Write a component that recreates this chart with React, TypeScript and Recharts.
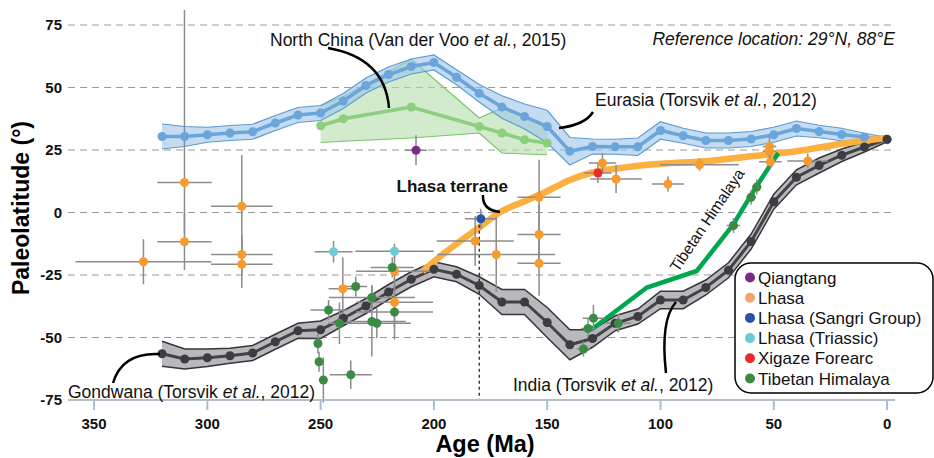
import React from "react";
import {
  ComposedChart,
  XAxis,
  YAxis,
  CartesianGrid,
  Line,
  Area,
  Scatter,
  ErrorBar,
  ReferenceLine,
} from "recharts";

// Apparent polar wander models, every 10 Ma from 320 to 0 Ma
const modelAges = [320, 310, 300, 290, 280, 270, 260, 250, 240, 230, 220, 210, 200, 190, 180, 170, 160, 150, 140, 130, 120, 110, 100, 90, 80, 70, 60, 50, 40, 30, 20, 10, 0];
const eurasiaLat = [30.4, 30.4, 31.1, 31.8, 32.3, 35.8, 39.0, 39.8, 44.6, 50.8, 55.2, 58.4, 60.0, 54.1, 47.7, 42.2, 38.4, 34.4, 24.5, 26.4, 26.3, 26.3, 32.8, 30.7, 28.8, 28.8, 29.4, 31.1, 33.6, 32.4, 31.2, 30.2, 29.1];
const eurasiaErr = [5, 4, 3, 3, 3, 3, 3, 3, 3, 3, 3, 3, 3, 3, 3.5, 4.5, 5, 6.5, 5.5, 3, 3, 3.5, 3.5, 3, 3, 3, 3, 3, 3, 2.5, 2.5, 1.5, 1];
const indiaLat = [-56.5, -58.6, -58.1, -57.3, -56.2, -51.7, -47.3, -46.9, -42.3, -37.4, -31.8, -26.7, -22.7, -24.7, -29.2, -35.8, -35.8, -44.0, -52.9, -50.4, -44.3, -41.6, -35.0, -35.0, -30.0, -23.1, -11.6, 4.3, 14.1, 18.8, 22.9, 26.2, 29.3];
const indiaErr = [5, 4, 3.5, 3, 3, 3, 3, 3.5, 3, 3, 3, 3, 3, 3, 3.5, 5, 5, 6, 6, 3.5, 3, 3, 3.5, 3.5, 3, 3, 3, 3, 3, 3, 2.5, 2, 1];

// North China (Van der Voo et al., 2015)
const northChinaAges = [250, 240, 210, 180, 170, 160, 150];
const northChinaLat = [34.7, 37.5, 42.2, 34.4, 31.8, 29.1, 27.8];
const northChinaLow = [28.0, 28.5, 29.8, 31.8, 23.8, 23.4, 23.1];
const northChinaHigh = [42.7, 46.4, 61.3, 37.8, 41.8, 37.8, 33.8];

// Lhasa terrane path
const lhasaPathAges = [205, 197, 190, 180, 171, 160, 150, 140, 130, 120, 100, 80, 60, 40, 20, 0];
const lhasaPathLat = [-23.5, -17.4, -12.5, -6, 0, 4.5, 8.5, 13, 16, 17.5, 19.5, 20.5, 22.5, 24.5, 27.5, 29.9];

// Tibetan Himalaya path
const himalayaPathAges = [130, 106, 84, 68, 58, 48];
const himalayaPathLat = [-46.5, -30, -23.4, -5, 10, 23.8];

// sites: [age, lat, age error, lat error]
const qiangtangSites = [[207.9, 24.9, 4.8, 6]];
const lhasaSites = [
  [328.2, -19.7, 30, 9],
  [310.1, 12, 12, [20, 69]],
  [310.1, -11.7, 12, 11.3],
  [284.8, 2.5, 13.6, 20.5],
  [284.8, -16.8, 13.6, 8],
  [284.8, -20.7, 13.6, 9.5],
  [240.2, -30.5, 6.3, 12.6],
  [217.4, -23.5, 17, 8],
  [217.4, -35.9, 17, 10],
  [181.8, -11.4, 17, 10],
  [172.5, -16.8, 26, 15],
  [153.6, 6.1, 9.5, 15],
  [153.6, -8.8, 9.5, 12],
  [153.6, -20.3, 9.5, 13],
  [125.6, 19.8, 6, 4],
  [119.6, 13.4, 11.5, 5.6],
  [96.7, 11.4, 7, 3],
  [82.8, 19.1, 17.3, 2.4],
  [51.9, 26.4, 3, 4.5],
  [51.9, 24.5, 3, 3],
  [51.5, 20.3, 5, 3],
  [35, 20.6, 9, 3],
];
const sangriSites = [[179.3, -2.5, 7, 4]];
const triassicSites = [
  [244.3, -15.7, 8.4, 4.3],
  [217.4, -15.5, 17.3, 3],
];
const xigazeSites = [[127.6, 15.8, 6, 4]];
const himalayaSites = [
  [251.2, -52.4, 0, 4],
  [250.7, -59.7, 0, 4],
  [248.8, -67, 0, 9],
  [246.5, -39, 8, 4],
  [241.7, -44.3, 5, 8.3],
  [236.7, -64.9, 9.3, 5.7],
  [234.5, -29.6, 5, 4],
  [227.4, -34, 19, 5],
  [227.4, -43.6, 15, 14],
  [225.2, -44.3, 15, 6],
  [218.4, -22, 9.5, 4],
  [217.4, -39.8, 17, 11],
  [134, -54.6, 3, 3],
  [132, -46.4, 3, 4],
  [129.6, -42.3, 4.8, 5.3],
  [118.6, -44.3, 5.5, 3.7],
  [67.8, -5.2, 3, 3],
  [60, 6.1, 2, 3],
  [57.5, 10.2, 2, 3],
];

const legendNames = ["Qiangtang", "Lhasa", "Lhasa (Sangri Group)", "Lhasa (Triassic)", "Xigaze Forearc", "Tibetan Himalaya"];
const legendColors = ["#7b2a8a", "#f4a468", "#2754a5", "#6ccbd9", "#ec2a2a", "#3b8b45"];

const xTicks = [0, 50, 100, 150, 200, 250, 300, 350];
const yTicks = [-75, -50, -25, 0, 25, 50, 75];

const eurasiaData = modelAges.map((age, i) => ({
  age,
  lat: eurasiaLat[i],
  band: [eurasiaLat[i] - eurasiaErr[i], eurasiaLat[i] + eurasiaErr[i]],
}));
const indiaData = modelAges.map((age, i) => ({
  age,
  lat: indiaLat[i],
  band: [indiaLat[i] - indiaErr[i], indiaLat[i] + indiaErr[i]],
}));
const northChinaData = northChinaAges.map((age, i) => ({
  age,
  lat: northChinaLat[i],
  band: [northChinaLow[i], northChinaHigh[i]],
}));
const lhasaPath = lhasaPathAges.map((age, i) => ({ age, lat: lhasaPathLat[i] }));
const himalayaPath = himalayaPathAges.map((age, i) => ({ age, lat: himalayaPathLat[i] }));

const toPoints = (rows: any[]) => rows.map(([age, lat, ex, ey]) => ({ age, lat, ex, ey }));

const BLUE = "#6aa5dc";
const GREY = "#424247";
const LIGHTGREEN = "#8ccf7e";
const BAR = "#8c8c8c";
const FONT = "'Liberation Sans', Arial, sans-serif";

function Overlay() {
  const t = { fontSize: 17.5, fill: "#111" };
  const curve = { fill: "none", stroke: "#000", strokeWidth: 2.5 };
  return (
    <svg width={934} height={458} style={{ position: "absolute", left: 0, top: 0, pointerEvents: "none", fontFamily: FONT }}>
      <text x={21} y={208} fontSize={23} fontWeight="bold" textAnchor="middle" dy="0.35em" transform="rotate(-90 21 208)">
        Paleolatitude (°)
      </text>
      <text x={485} y={452} fontSize={23.5} fontWeight="bold" textAnchor="middle">Age (Ma)</text>

      <text x={270} y={46} {...t}>
        North China (Van der Voo <tspan fontStyle="italic">et al.</tspan>, 2015)
      </text>
      <path d="M328,48 Q385,58 389,108" {...curve} />
      <text x={895} y={45} {...t} fontStyle="italic" textAnchor="end">Reference location: 29°N, 88°E</text>
      <text x={595} y={106} {...t}>
        Eurasia (Torsvik <tspan fontStyle="italic">et al.</tspan>, 2012)
      </text>
      <path d="M593,112 Q585,125 559,128" {...curve} />
      <text x={68} y={398} {...t}>
        Gondwana (Torsvik <tspan fontStyle="italic">et al.</tspan>, 2012)
      </text>
      <path d="M113,383 Q122,352 160,354" {...curve} />
      <text x={513} y={391} {...t}>
        India (Torsvik <tspan fontStyle="italic">et al.</tspan>, 2012)
      </text>
      <path d="M666,373 Q660,320 676,302" {...curve} />
      <text x={508} y={192} fontSize={17} fontWeight="bold" textAnchor="end" fill="#111">Lhasa terrane</text>
      <path d="M483,195 Q482,210 500,212" {...curve} />
      <text x={707} y={220} fontSize={15.5} textAnchor="middle" dy="0.35em" transform="rotate(-56 707 220)" fill="#111">
        Tibetan Himalaya
      </text>

      <rect x={735} y={263} width={198} height={130} rx={16} fill="#fff" stroke="#000" strokeWidth={1.5} />
      {legendNames.map((name, i) => (
        <g key={name}>
          <circle cx={750} cy={277.5 + i * 20.2} r={5} fill={legendColors[i]} />
          <text x={758} y={283.5 + i * 20.2} fontSize={17} fill="#111">{name}</text>
        </g>
      ))}
    </svg>
  );
}

function siteSeries(rows: any[], color: string, key: string) {
  return (
    <Scatter key={key} data={toPoints(rows)} dataKey="lat" fill={color} isAnimationActive={false}>
      <ErrorBar dataKey="ex" direction="x" width={0} stroke={BAR} strokeWidth={1.5} isAnimationActive={false} />
      <ErrorBar dataKey="ey" direction="y" width={0} stroke={BAR} strokeWidth={1.5} isAnimationActive={false} />
    </Scatter>
  );
}

export default function App() {
  return (
    <div style={{ position: "absolute", left: 0, top: 0, width: 934, height: 458, background: "#fff", fontFamily: FONT }}>
      <ComposedChart width={934} height={458} margin={{ top: 11, right: 39, bottom: 28, left: 0 }}>
        <CartesianGrid vertical={false} horizontalValues={[-50, -25, 0, 25, 50, 75]} strokeDasharray="7 5" stroke="#9a9a9a" strokeWidth={1.2} />
        <XAxis
          dataKey="age"
          type="number"
          domain={[-3.5, 361.5]}
          reversed
          allowDataOverflow
          ticks={xTicks}
          interval={0}
          height={30}
          tickSize={10}
          tickMargin={8}
          axisLine={{ stroke: "#b6bdc8", strokeWidth: 2 }}
          tickLine={{ stroke: "#a9bdd3", strokeWidth: 2 }}
          tick={{ fill: "#111", fontSize: 15, fontWeight: 700 }}
        />
        <YAxis
          type="number"
          domain={[-75, 80.6]}
          allowDataOverflow
          ticks={yTicks}
          interval={0}
          width={68}
          axisLine={false}
          tickLine={false}
          tickSize={6}
          tickMargin={0}
          tick={{ fill: "#111", fontSize: 15, fontWeight: 700 }}
        />

        <Area data={northChinaData} dataKey="band" type="linear" stroke="#79c569" strokeWidth={1.2} fill="#b2ddaa" fillOpacity={0.6} dot={false} activeDot={false} isAnimationActive={false} />
        <Area data={eurasiaData} dataKey="band" type="linear" stroke="#5b9bd5" strokeWidth={1.2} fill="#9fc3e7" fillOpacity={0.6} dot={false} activeDot={false} isAnimationActive={false} />
        <Area data={indiaData} dataKey="band" type="linear" stroke="#36363a" strokeWidth={1.5} fill="#b8b8bd" fillOpacity={1} dot={false} activeDot={false} isAnimationActive={false} />

        <Line data={northChinaData} dataKey="lat" type="linear" stroke={LIGHTGREEN} strokeWidth={3.5} dot={{ r: 4.5, fill: LIGHTGREEN, stroke: "none" }} activeDot={false} isAnimationActive={false} />
        <Line data={eurasiaData} dataKey="lat" type="linear" stroke={BLUE} strokeWidth={3.5} dot={{ r: 4.5, fill: BLUE, stroke: "none" }} activeDot={false} isAnimationActive={false} />
        <Line data={indiaData} dataKey="lat" type="linear" stroke={GREY} strokeWidth={3} dot={{ r: 4.5, fill: "#3c3c41", stroke: "none" }} activeDot={false} isAnimationActive={false} />
        <Line data={lhasaPath} dataKey="lat" type="monotone" stroke="#fbb040" strokeWidth={6.5} dot={false} activeDot={false} isAnimationActive={false} />
        <Line data={himalayaPath} dataKey="lat" type="linear" stroke="#00a650" strokeWidth={4.5} dot={false} activeDot={false} isAnimationActive={false} />

        <ReferenceLine segment={[{ x: 180, y: -2.5 }, { x: 180, y: -75 }]} stroke="#111" strokeDasharray="3 3" strokeWidth={1.2} />

        {siteSeries(qiangtangSites, "#7b2a8a", "q")}
        {siteSeries(lhasaSites, "#f89b2d", "l")}
        {siteSeries(triassicSites, "#6ccbd9", "t")}
        {siteSeries(himalayaSites, "#3b8b45", "h")}
        {siteSeries(sangriSites, "#2754a5", "s")}
        {siteSeries(xigazeSites, "#ec2a2a", "x")}
      </ComposedChart>
      <Overlay />
    </div>
  );
}
